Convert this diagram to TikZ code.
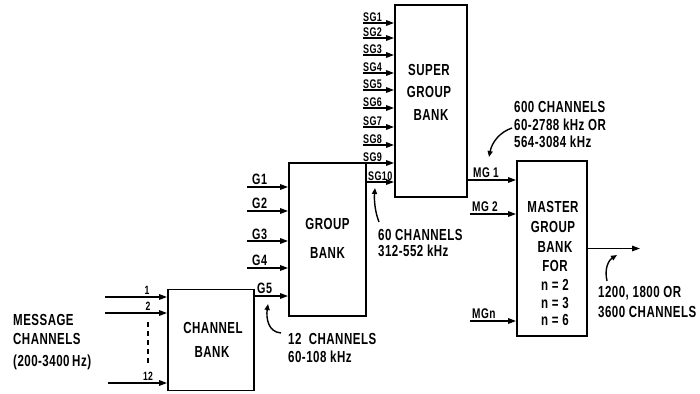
\documentclass[tikz,border=0pt]{standalone}
\usepackage{fontspec}
\setmainfont{Liberation Sans}[FakeStretch=0.72, LetterSpace=3]
\usetikzlibrary{arrows.meta}
\begin{document}
\begin{tikzpicture}[x=1pt,y=-1pt,
  box/.style={draw, line width=1.8pt, inner sep=0pt},
  arr/.style={-{Triangle[length=8pt,width=5.5pt]}, line width=1.5pt},
  note/.style={-{Triangle[length=6pt,width=5pt]}, line width=1.4pt},
  big/.style={font=\fontsize{16}{16}\selectfont\bfseries, inner sep=0pt},
  txt/.style={font=\fontsize{16}{16}\selectfont\bfseries, inner sep=0pt, anchor=west},
  sml/.style={font=\fontsize{12}{12}\selectfont\bfseries, inner sep=0pt, anchor=south},
  sgl/.style={font=\fontsize{12.5}{12.5}\selectfont\bfseries, inner sep=0pt, anchor=south west},
  gl/.style={font=\fontsize{15}{15}\selectfont\bfseries, inner sep=0pt, anchor=south west},
  mgl/.style={font=\fontsize{14}{14}\selectfont\bfseries, inner sep=0pt, anchor=south west}]
\useasboundingbox (0,0) rectangle (700,393);

% boxes
\node[box, minimum width=86pt, minimum height=101pt] (cb) at (211,340) {};
\node[box, minimum width=77pt, minimum height=153pt] (gb) at (327.5,239.5) {};
\node[box, minimum width=72pt, minimum height=192pt] (sb) at (431,101) {};
\node[box, minimum width=70pt, minimum height=175pt] (mb) at (552,248.5) {};

% box texts
\node[big] (cbt1) at (213,328) {CHANNEL};
\node[big] (cbt2) at (212,352) {BANK};
\node[big] (gbt1) at (327.5,224) {GROUP};
\node[big] (gbt2) at (327.5,253) {BANK};
\node[big] (sbt1) at (429,70) {SUPER};
\node[big] (sbt2) at (429,92) {GROUP};
\node[big] (sbt3) at (431,115) {BANK};
\node[big] (mbt1) at (553,207) {MASTER};
\node[big] (mbt2) at (553,227) {GROUP};
\node[big] (mbt3) at (555,247) {BANK};
\node[big] (mbt4) at (555,266) {FOR};
\node[big] (mbt5) at (555,285) {n = 2};
\node[big] (mbt6) at (555,303) {n = 3};
\node[big] (mbt7) at (555,320) {n = 6};

% message channels input
\node[txt] (msg1) at (13,320) {MESSAGE};
\node[txt] (msg2) at (13,339) {CHANNELS};
\node[txt] (msg3) at (13,362) {(200-3400\,Hz)};
\coordinate (m1) at (105,297);
\coordinate (m2) at (105,313);
\coordinate (m12) at (108,383);
\draw[arr] (m1) -- (m1 -| cb.west);
\draw[arr] (m2) -- (m2 -| cb.west);
\draw[arr] (m12) -- (m12 -| cb.west);
\node[sml] (n1) at (147,295) {1};
\node[sml] (n2) at (148,311) {2};
\node[sml] (n12) at (148,381) {12};
\coordinate (d1) at (148,322);
\coordinate (d2) at (148,364);
\draw[line width=1.5pt, dash pattern=on 5pt off 4pt] (d1) -- (d2);

% group inputs
\coordinate (g1) at (247,187);
\coordinate (g2) at (247,211);
\coordinate (g3) at (247,241);
\coordinate (g4) at (247,268);
\coordinate (g5) at (254,296);
\draw[arr] (g1) -- (g1 -| gb.west);
\draw[arr] (g2) -- (g2 -| gb.west);
\draw[arr] (g3) -- (g3 -| gb.west);
\draw[arr] (g4) -- (g4 -| gb.west);
\draw[arr] (g5) -- (g5 -| gb.west);
\node[gl] (gl1) at (252,185) {G1};
\node[gl] (gl2) at (252,209) {G2};
\node[gl] (gl3) at (252,240) {G3};
\node[gl] (gl4) at (252,266) {G4};
\node[gl] (gl5) at (257,294) {G5};

% supergroup inputs
\foreach \i/\yy in {1/23,2/38,3/55,4/73,5/90,6/108,7/127,8/145}{
  \coordinate (s\i) at (363,\yy);
  \draw[arr] (s\i) -- (s\i -| sb.west);
  \node[sgl] (sl\i) at (363,\yy-1) {SG\i};
}
\coordinate (s9) at (366,163);
\coordinate (s10) at (366,182);
\draw[arr] (s9) -- (s9 -| sb.west);
\draw[arr] (s10) -- (s10 -| sb.west);
\node[sgl] (sl9) at (363,162) {SG9};
\node[sgl] (sl10) at (368,181) {SG10};

% mastergroup inputs
\coordinate (mg1) at (467,180);
\coordinate (mg2) at (470,214);
\coordinate (mgn) at (470,321);
\draw[arr] (mg1) -- (mg1 -| mb.west);
\draw[arr] (mg2) -- (mg2 -| mb.west);
\draw[arr] (mgn) -- (mgn -| mb.west);
\node[mgl] (ml1) at (473,178) {MG 1};
\node[mgl] (ml2) at (472,212) {MG 2};
\node[mgl] (mln) at (472,319) {MGn};

% output
\coordinate (out) at (640,248.5);
\draw[arr] (mb.east) -- (out);

% annotations
\node[txt] (a1) at (288,339) {12 \ CHANNELS};
\node[txt] (a2) at (288,357) {60-108 kHz};
\node[txt] (b1) at (378,235) {60 CHANNELS};
\node[txt] (b2) at (378,251) {312-552 kHz};
\node[txt] (c1) at (514,107) {600 CHANNELS};
\node[txt] (c2) at (514,125) {60-2788 kHz OR};
\node[txt] (c3) at (514,142) {564-3084 kHz};
\node[txt] (e1) at (598,293) {1200, 1800 OR};
\node[txt] (e2) at (598,312) {3600 CHANNELS};

\coordinate (p1s) at (281,333);
\coordinate (p1e) at (268,304);
\draw[note] (p1s) .. controls (268,332) and (266,318) .. (p1e);
\coordinate (p2s) at (379,222);
\coordinate (p2e) at (375,188);
\draw[note] (p2s) .. controls (375,212) and (374,200) .. (p2e);
\coordinate (p3s) at (512,128);
\coordinate (p3e) at (489,157);
\draw[note] (p3s) .. controls (500,132) and (492,142) .. (p3e);
\coordinate (p4s) at (607,281);
\coordinate (p4e) at (617,255);
\draw[note] (p4s) .. controls (604,268) and (609,260) .. (p4e);
\end{tikzpicture}
\end{document}
